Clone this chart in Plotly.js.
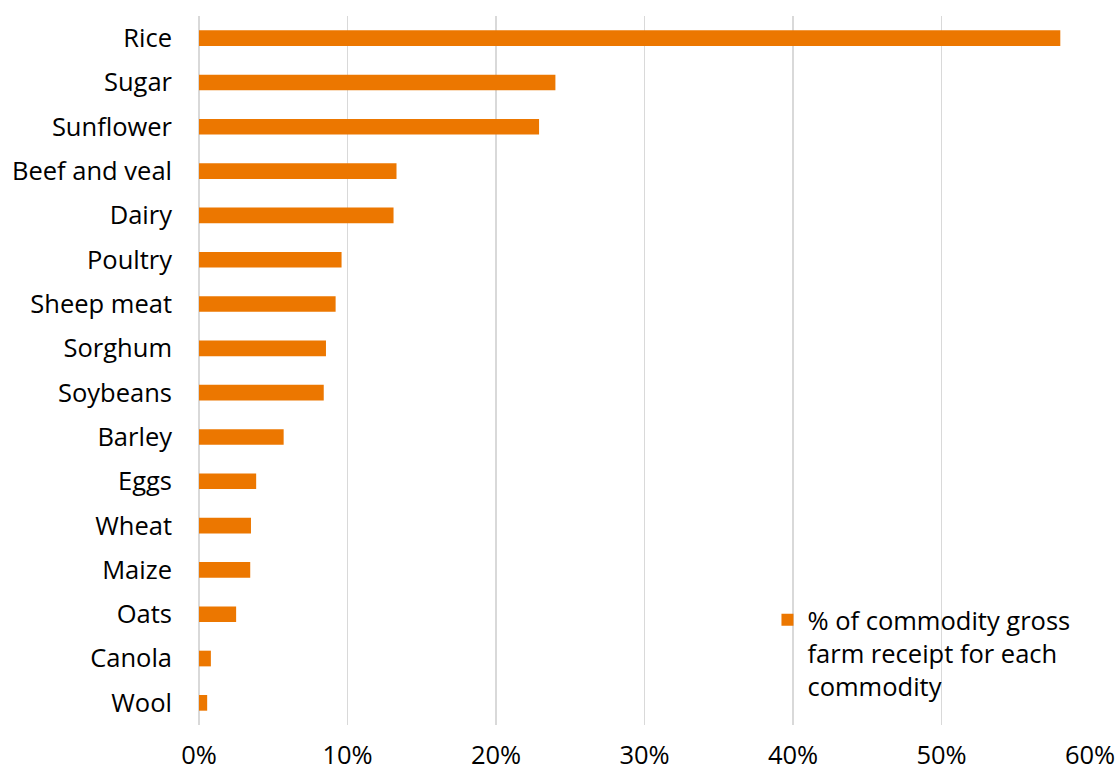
<!DOCTYPE html>
<html>
<head>
<meta charset="utf-8">
<script src="https://cdn.plot.ly/plotly-3.0.1.min.js"></script>
<style>html,body{margin:0;padding:0;background:#fff;}#chart{width:1117px;height:774px;}</style>
</head>
<body>
<div id="chart"></div>
<script>
const categories = ["Rice","Sugar","Sunflower","Beef and veal","Dairy","Poultry","Sheep meat","Sorghum","Soybeans","Barley","Eggs","Wheat","Maize","Oats","Canola","Wool"];
const shareValues = [58.0, 24.0, 22.9, 13.3, 13.1, 9.6, 9.2, 8.55, 8.4, 5.7, 3.85, 3.5, 3.45, 2.5, 0.8, 0.55];
const seriesName = "% of commodity gross<br>farm receipt for each<br>commodity";
const xTickVals = [0,10,20,30,40,50,60];
const xTickText = ["0%","10%","20%","30%","40%","50%","60%"];

const font = "'Open Sans', sans-serif";
const fs = 25.5;

Plotly.newPlot("chart", [{
  type: "bar",
  orientation: "h",
  y: categories,
  x: shareValues,
  name: seriesName,
  marker: {color: "#EC7700"},
  hoverinfo: "x+y"
}], {
  width: 1117, height: 774,
  margin: {l: 198.5, r: 26.5, t: 16, b: 49, pad: 0},
  paper_bgcolor: "#fff", plot_bgcolor: "#fff",
  bargap: 0.646,
  showlegend: true,
  font: {family: font, size: fs, color: "#000"},
  xaxis: {
    range: [0, 60],
    tickvals: xTickVals, ticktext: xTickText,
    showgrid: true, gridcolor: "#d9d9d9", gridwidth: 1.5,
    zeroline: true, zerolinecolor: "#d9d9d9", zerolinewidth: 1.5,
    showline: false, ticks: "", ticklabelstandoff: 12,
    tickfont: {family: font, size: fs, color: "#000"},
    fixedrange: true
  },
  yaxis: {
    autorange: "reversed",
    type: "category",
    showgrid: false, zeroline: false, showline: false,
    ticks: "", ticklabelstandoff: 26,
    tickfont: {family: font, size: fs, color: "#000"},
    fixedrange: true
  },
  legend: {
    x: 0.638, y: 0.181, xanchor: "left", yanchor: "top",
    bgcolor: "rgba(0,0,0,0)",
    font: {family: font, size: fs, color: "#000"},
    itemwidth: 30, tracegroupgap: 0,
    valign: "top"
  }
}, {displayModeBar: false, staticPlot: true});
</script>
</body>
</html>
